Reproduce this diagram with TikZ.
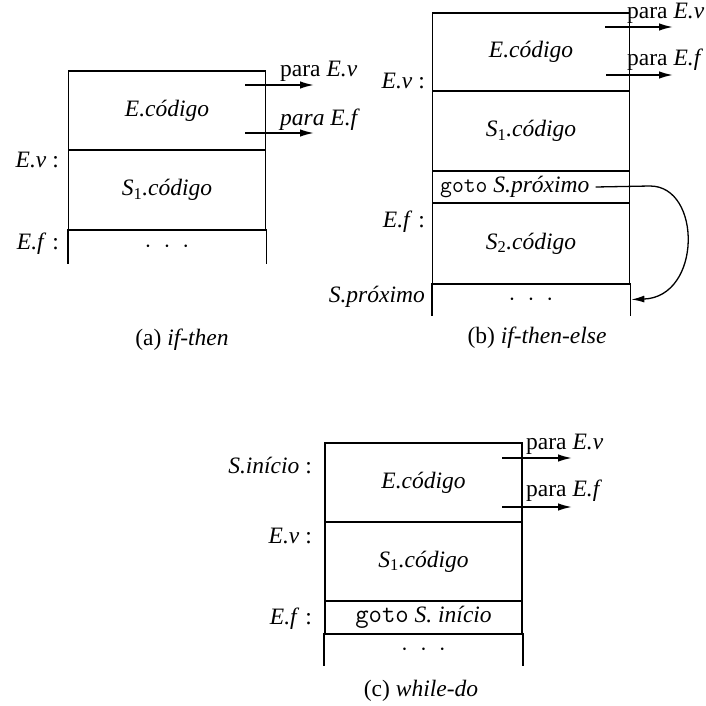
\documentclass[tikz,border=0pt]{standalone}
\usepackage{fontspec}
\setmainfont{Liberation Serif}
\usetikzlibrary{arrows.meta,positioning}
\newcommand{\cellsub}[1]{\textsubscript{\upshape #1}}
\newcommand{\dotsrow}{$\cdot$\hspace{12pt}$\cdot$\hspace{12pt}$\cdot$}

\begin{document}
\begin{tikzpicture}[x=1pt, y=-1pt,
  cell/.style={draw, line width=1.7pt, minimum width=197pt, inner sep=0pt, font=\fontsize{23.5}{26}\selectfont\itshape},
  opencell/.style={cell, draw=none},
  wall/.style={line width=1.7pt},
  arrow/.style={-{Latex[length=14pt, width=7.5pt]}, line width=1.7pt},
  back/.style={-{Latex[length=13pt, width=7pt]}, line width=1.3pt},
  lbl/.style={font=\fontsize{23.5}{26}\selectfont, inner sep=0pt},
  captxt/.style={font=\fontsize{23.5}{26}\selectfont, inner sep=0pt},
]
\useasboundingbox (0,0) rectangle (705,706);

% (a) if-then
\node[cell, minimum height=79pt] (acod) at (167,110.5) {E.código};
\node[cell, minimum height=80pt] (as1) at (167,190) {S\cellsub{1}.código};
\node[opencell, minimum height=33pt] (adots) at (167,246.5) {\dotsrow};
\draw[wall] (adots.north west) -- (adots.south west) (adots.north east) -- (adots.south east);
\node[lbl, anchor=east] (aev) at (59,160) {\textit{E.v} :};
\node[lbl, anchor=east] (aef) at (59,244) {\textit{E.f} :};

\coordinate (av0) at (245,85);
\coordinate (av1) at (314,85);
\coordinate (af0) at (245,133);
\coordinate (af1) at (314,133);
\draw[arrow] (av0) -- (av1);
\draw[arrow] (af0) -- (af1);
\node[lbl, anchor=base west] (apv) at (280,77) {para \textit{E.v}};
\node[lbl, anchor=base west] (apf) at (280,125) {\textit{para E.f}};
\node[captxt] (acap) at (182,340) {(a) \textit{if-then}};

% (b) if-then-else
\node[cell, minimum height=78pt] (bcod) at (531,52) {E.código};
\node[cell, minimum height=80pt] (bs1) at (531,131) {S\cellsub{1}.código};
\node[cell, minimum height=32pt] (bgoto) at (531,187) {};
\node[lbl, anchor=west] (bgtxt) at (440,187) {{\ttfamily\fontsize{23}{25}\selectfont goto} \textit{S.próximo}};
\node[cell, minimum height=81pt] (bs2) at (531,243.5) {S\cellsub{2}.código};
\node[opencell, minimum height=31pt] (bdots) at (531,299.5) {\dotsrow};
\draw[wall] (bdots.north west) -- (bdots.south west) (bdots.north east) -- (bdots.south east);
\node[lbl, anchor=east] (bev) at (425,81) {\textit{E.v} :};
\node[lbl, anchor=east] (bef) at (425,222) {\textit{E.f} :};
\node[lbl, anchor=east] (bsp) at (425,297) {\textit{S.próximo}};

\coordinate (bv0) at (605,27);
\coordinate (bv1) at (673,27);
\coordinate (bf0) at (606,75);
\coordinate (bf1) at (673,75);
\draw[arrow] (bv0) -- (bv1);
\draw[arrow] (bf0) -- (bf1);
\node[lbl, anchor=base west] (bpv) at (627,19) {para \textit{E.v}};
\node[lbl, anchor=base west] (bpf) at (627,66) {para \textit{E.f}};

\coordinate (bturn) at (650,186);
\draw[back] ([xshift=6pt]bgtxt.east) -- (bturn) .. controls (702,186) and (702,297) .. ([xshift=1pt]bdots.east);
\node[captxt] (bcap) at (537,338) {(b) \textit{if-then-else}};

% (c) while-do
\node[cell, minimum height=79pt] (ccod) at (423.5,482.5) {E.código};
\node[cell, minimum height=79pt] (cs1) at (423.5,561.5) {S\cellsub{1}.código};
\node[cell, minimum height=33pt] (cgoto) at (423.5,617.5) {{\upshape\ttfamily\fontsize{26}{28}\selectfont goto} S.\ início};
\node[opencell, minimum height=31pt] (cdots) at (423.5,649.5) {\dotsrow};
\draw[wall] (cdots.north west) -- (cdots.south west) (cdots.north east) -- (cdots.south east);
\node[lbl, anchor=east] (csi) at (312,465) {\textit{S.início} :};
\node[lbl, anchor=east] (cev) at (312,536) {\textit{E.v} :};
\node[lbl, anchor=east] (cef) at (312,619) {\textit{E.f} :};

\coordinate (cv0) at (502,458);
\coordinate (cv1) at (572,458);
\coordinate (cf0) at (502,507);
\coordinate (cf1) at (572,507);
\draw[arrow] (cv0) -- (cv1);
\draw[arrow] (cf0) -- (cf1);
\node[lbl, anchor=base west] (cpv) at (526,449) {para \textit{E.v}};
\node[lbl, anchor=base west] (cpf) at (526,496) {para \textit{E.f}};
\node[captxt] (ccap) at (421,691) {(c) \textit{while-do}};

\end{tikzpicture}
\end{document}
